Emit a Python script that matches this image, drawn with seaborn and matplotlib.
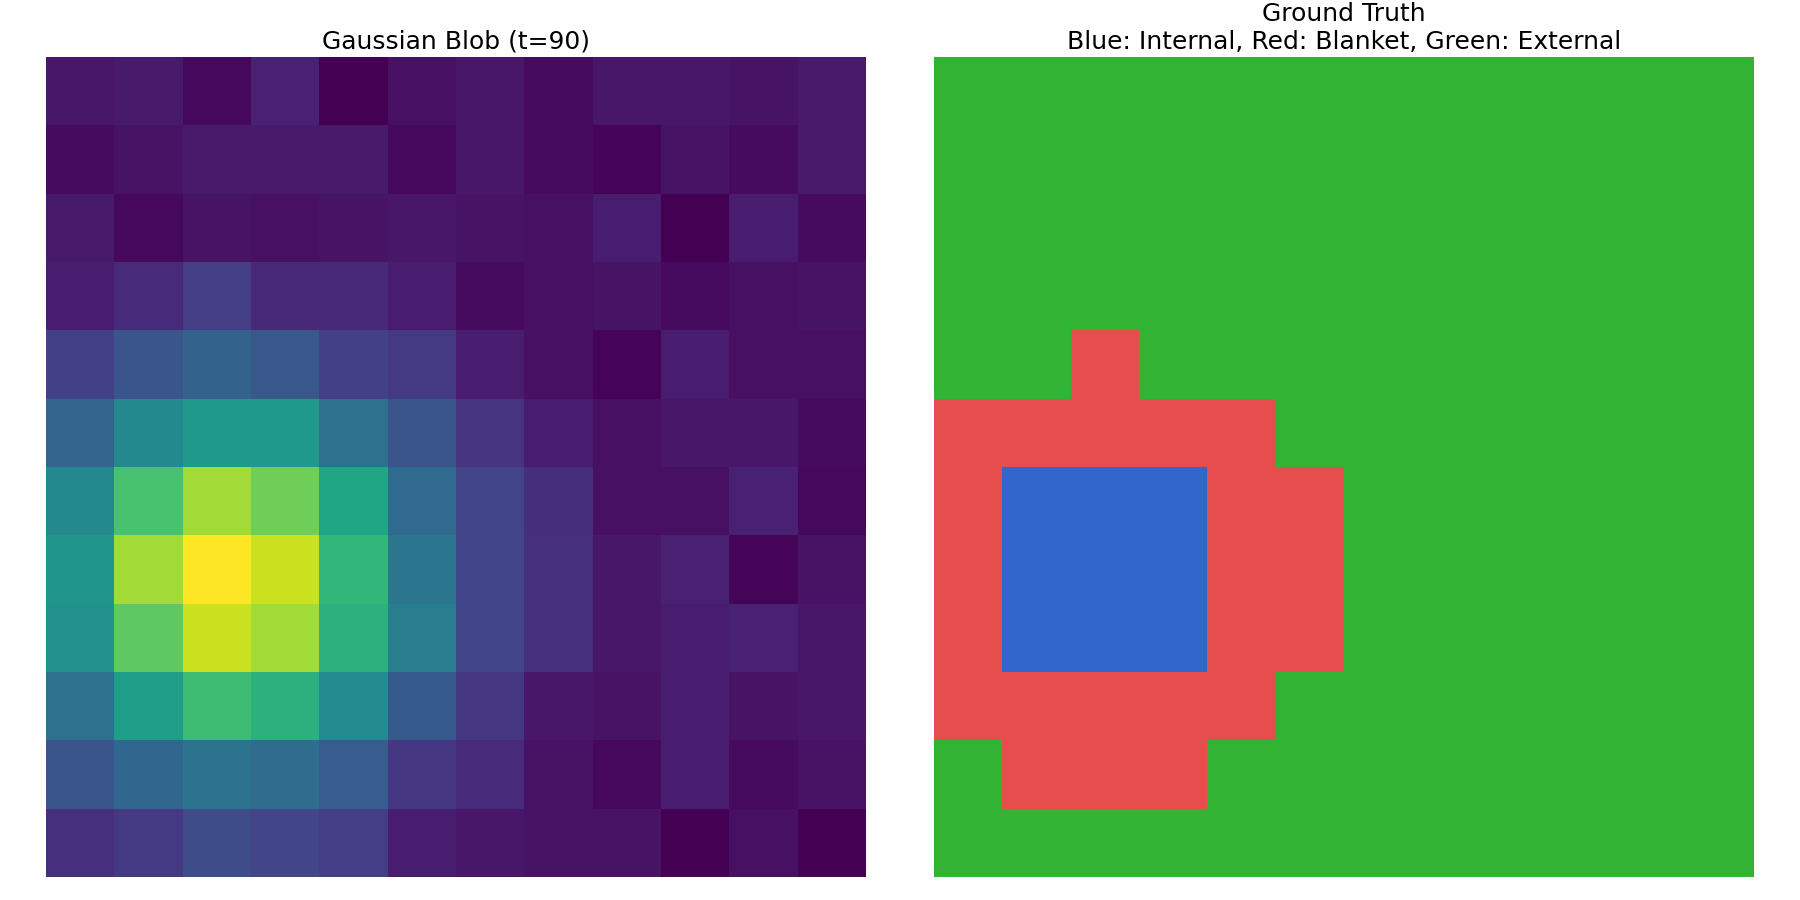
import numpy as np
import matplotlib
matplotlib.use("Agg")
import matplotlib.pyplot as plt
import seaborn as sns
from matplotlib.colors import ListedColormap

# Normalised intensity of the Gaussian blob at t=90 (12x12, row 0 = top)
blob_rows = [
    [0.06, 0.07, 0.02, 0.09, 0.00, 0.04, 0.06, 0.03, 0.06, 0.06, 0.05, 0.07],
    [0.03, 0.05, 0.07, 0.07, 0.07, 0.02, 0.06, 0.03, 0.01, 0.05, 0.03, 0.07],
    [0.07, 0.02, 0.05, 0.04, 0.05, 0.06, 0.05, 0.04, 0.08, 0.00, 0.08, 0.03],
    [0.08, 0.12, 0.18, 0.11, 0.11, 0.08, 0.03, 0.04, 0.05, 0.03, 0.04, 0.05],
    [0.19, 0.26, 0.31, 0.27, 0.19, 0.17, 0.08, 0.04, 0.01, 0.08, 0.04, 0.04],
    [0.32, 0.47, 0.54, 0.54, 0.37, 0.26, 0.15, 0.08, 0.04, 0.06, 0.06, 0.03],
    [0.47, 0.71, 0.86, 0.78, 0.59, 0.34, 0.20, 0.13, 0.04, 0.04, 0.09, 0.02],
    [0.52, 0.86, 1.00, 0.92, 0.66, 0.39, 0.21, 0.14, 0.06, 0.09, 0.01, 0.05],
    [0.50, 0.75, 0.92, 0.86, 0.64, 0.42, 0.21, 0.14, 0.06, 0.08, 0.09, 0.06],
    [0.37, 0.56, 0.69, 0.64, 0.48, 0.28, 0.16, 0.06, 0.05, 0.08, 0.05, 0.06],
    [0.26, 0.33, 0.38, 0.35, 0.29, 0.16, 0.12, 0.05, 0.02, 0.08, 0.03, 0.05],
    [0.14, 0.17, 0.23, 0.21, 0.18, 0.08, 0.06, 0.05, 0.05, 0.00, 0.04, 0.00],
]

# Ground truth labels: 0 = External (green), 1 = Blanket (red), 2 = Internal (blue)
truth_rows = [
    [0, 0, 0, 0, 0, 0, 0, 0, 0, 0, 0, 0],
    [0, 0, 0, 0, 0, 0, 0, 0, 0, 0, 0, 0],
    [0, 0, 0, 0, 0, 0, 0, 0, 0, 0, 0, 0],
    [0, 0, 0, 0, 0, 0, 0, 0, 0, 0, 0, 0],
    [0, 0, 1, 0, 0, 0, 0, 0, 0, 0, 0, 0],
    [1, 1, 1, 1, 1, 0, 0, 0, 0, 0, 0, 0],
    [1, 2, 2, 2, 1, 1, 0, 0, 0, 0, 0, 0],
    [1, 2, 2, 2, 1, 1, 0, 0, 0, 0, 0, 0],
    [1, 2, 2, 2, 1, 1, 0, 0, 0, 0, 0, 0],
    [1, 1, 1, 1, 1, 0, 0, 0, 0, 0, 0, 0],
    [0, 1, 1, 1, 0, 0, 0, 0, 0, 0, 0, 0],
    [0, 0, 0, 0, 0, 0, 0, 0, 0, 0, 0, 0],
]
truth_colors = [(0.2, 0.7, 0.2), (0.9, 0.3, 0.3), (0.2, 0.4, 0.8)]

left_title = "Gaussian Blob (t=90)"
right_title = "Ground Truth\nBlue: Internal, Red: Blanket, Green: External"

fig = plt.figure(figsize=(18, 9), dpi=100)
ax1 = fig.add_axes([46 / 1800, 23 / 900, 820 / 1800, 820 / 900])
ax2 = fig.add_axes([934 / 1800, 23 / 900, 820 / 1800, 820 / 900])

sns.heatmap(np.array(blob_rows), ax=ax1, cmap="viridis", cbar=False,
            xticklabels=False, yticklabels=False)
ax1.set_title(left_title, fontsize=18)
ax1.axis("off")

sns.heatmap(np.array(truth_rows), ax=ax2, cmap=ListedColormap(truth_colors),
            vmin=-0.5, vmax=2.5, cbar=False, xticklabels=False, yticklabels=False)
ax2.set_title(right_title, fontsize=18)
ax2.axis("off")

fig.savefig("out.png", dpi=100)
